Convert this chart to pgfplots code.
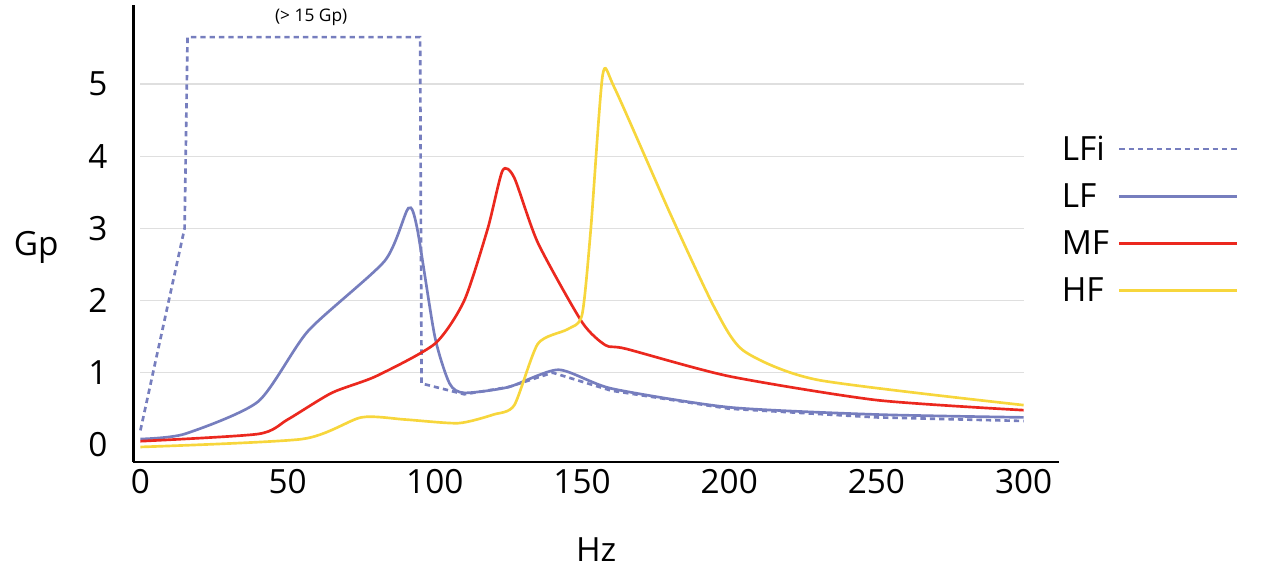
\documentclass[border=0pt]{standalone}
\usepackage{pgfplots}
\pgfplotsset{compat=1.18}
\usepackage{fontspec}
\setmainfont{Open Sans}
\definecolor{lfc}{RGB}{118,126,190}
\definecolor{mfc}{RGB}{235,40,30}
\definecolor{hfc}{RGB}{247,214,60}
\begin{document}
\begin{tikzpicture}
\useasboundingbox (-100pt,-85pt) rectangle (850pt,346.5pt);
\begin{axis}[
  at={(0,0)}, anchor=south west,
  scale only axis, width=694pt, height=343pt,
  xmin=-2.4, xmax=312, ymin=-0.24, ymax=6.1,
  axis x line*=bottom, axis y line*=left,
  axis line style={line width=2pt,-},
  xtick={0,50,...,300}, ytick={0,1,...,5},
  major tick length=0pt,
  tick label style={font=\fontsize{25}{29}\selectfont},
  /pgf/number format/assume math mode=true,
  xticklabel style={yshift=-2pt},
  yticklabel style={xshift=-16pt},
  xlabel={Hz}, ylabel={Gp},
  label style={font=\fontsize{25}{29}\selectfont},
  xlabel style={yshift=-26pt},
  ylabel style={rotate=-90, anchor=center, at={(-0.105,0.47)}},
  legend style={at={(1.0,0.72)}, anchor=north west, draw=none, fill=none, inner sep=0pt,
    font=\fontsize{25}{29}\selectfont, row sep=12pt},
  legend plot pos=right, legend cell align=left,
  legend image code/.code={\draw[#1, line width=2pt] (0.5cm,0cm) -- (3.6cm,0cm);},
  clip=false,
]
\foreach \yy in {1,...,5} {\edef\tmp{\noexpand\draw[gray!25, line width=0.8pt] (axis cs:0,\yy) -- (axis cs:300,\yy);}\tmp}
\addplot[lfc, line width=2pt, dash pattern=on 4pt off 3pt] coordinates {
(0,0.2)(15,3)(16,5.65)(95,5.65)(95.5,0.85)(110,0.7)(125,0.8)(140,1.0)(160,0.75)(200,0.5)(250,0.38)(300,0.33)};
\addlegendentry{\makebox[40pt][l]{LFi}}
\addplot[lfc, line width=2pt, smooth, tension=0.4] coordinates {
(0,0.08)(15,0.15)(40,0.6)(57,1.58)(83,2.55)(91,3.28)(94,3.0)(100,1.5)(105,0.85)(110,0.72)(125,0.8)(142,1.04)(160,0.78)(200,0.52)(250,0.42)(300,0.38)};
\addlegendentry{\makebox[40pt][l]{LF}}
\addplot[mfc, line width=2pt, smooth, tension=0.4] coordinates {
(0,0.05)(40,0.15)(50,0.35)(65,0.72)(80,0.95)(100,1.4)(110,2.0)(118,3.0)(123,3.8)(127,3.7)(135,2.8)(150,1.7)(158,1.38)(165,1.33)(200,0.95)(250,0.62)(300,0.48)};
\addlegendentry{\makebox[40pt][l]{MF}}
\addplot[hfc, line width=2pt, smooth, tension=0.4] coordinates {
(0,-0.03)(55,0.08)(75,0.38)(90,0.35)(108,0.3)(120,0.42)(127,0.55)(135,1.4)(145,1.6)(150,1.8)(153,3)(157,5.12)(161,4.95)(180,3.2)(195,1.9)(205,1.3)(230,0.9)(300,0.55)};
\addlegendentry{\makebox[40pt][l]{HF}}
\node[font=\fontsize{13}{15}\selectfont] at (axis cs:58,5.93) {(> 15 Gp)};
\end{axis}
\end{tikzpicture}
\end{document}
